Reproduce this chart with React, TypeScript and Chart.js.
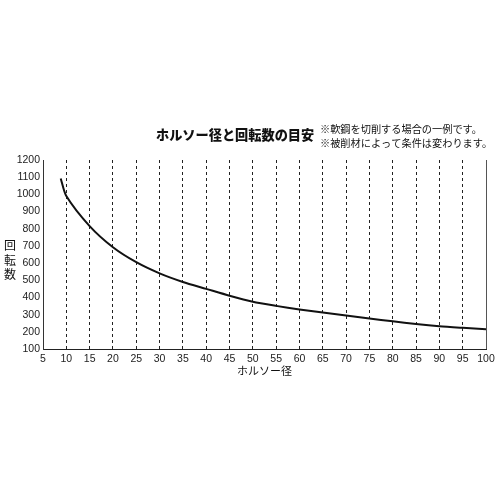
import React, { useEffect, useRef } from 'react';
import Chart from 'chart.js/auto';

// ホルソー径 (mm) と回転数 (rpm)
const diameters = [8.8, 10, 15, 20, 25, 30, 35, 40, 45, 50, 55, 60, 65, 70, 75, 80, 85, 90, 95, 100];
const rpm = [1092, 990, 815, 692, 605, 540, 490, 450, 410, 375, 351, 330, 312, 295, 277, 261, 245, 232, 223, 215];

const titleText = 'ホルソー径と回転数の目安';
const noteLines = ['※軟鋼を切削する場合の一例です。', '※被削材によって条件は変わります。'];
const xTitle = 'ホルソー径';
const yTitle = ['回', '転', '数'];

const jpFont = '"Noto Sans CJK JP", "Noto Sans", sans-serif';
const numFont = '"Liberation Sans", Arial, sans-serif';

const textPlugin = {
  id: 'textPlugin',
  afterDraw(chart: any) {
    const { ctx, chartArea, scales } = chart;
    ctx.save();
    ctx.fillStyle = '#111';
    ctx.textBaseline = 'middle';

    ctx.font = `900 13.2px ${jpFont}`;
    ctx.textAlign = 'left';
    ctx.fillText(titleText, 156, 135);

    ctx.font = `10.2px ${jpFont}`;
    ctx.fillText(noteLines[0], 320, 129);
    ctx.fillText(noteLines[1], 320, 143);

    ctx.font = `11px ${jpFont}`;
    ctx.textAlign = 'center';
    ctx.fillText(xTitle, (chartArea.left + chartArea.right) / 2, 371);

    ctx.font = `12px ${jpFont}`;
    const yTop = scales.y.getPixelForValue(700);
    yTitle.forEach((ch, i) => {
      ctx.fillText(ch, 10, yTop + i * 14.5);
    });
    ctx.restore();
  },
};

const App: React.FC = () => {
  const canvasRef = useRef<HTMLCanvasElement>(null);
  const chartInstance = useRef<Chart | null>(null);

  useEffect(() => {
    if (!canvasRef.current) return;
    if (chartInstance.current) chartInstance.current.destroy();

    const ctx = canvasRef.current.getContext('2d');
    if (!ctx) return;

    chartInstance.current = new Chart(ctx, {
      type: 'line',
      data: {
        datasets: [
          {
            label: '回転数',
            data: diameters.map((d, i) => ({ x: d, y: rpm[i] })),
            borderColor: '#111',
            borderWidth: 2,
            pointRadius: 0,
            fill: false,
            tension: 0.25,
          },
        ],
      },
      options: {
        responsive: true,
        maintainAspectRatio: false,
        animation: false,
        layout: { padding: { top: 160, left: 0, right: 14, bottom: 131 } },
        plugins: {
          legend: { display: false },
          tooltip: { enabled: false },
          title: { display: false },
        },
        scales: {
          x: {
            type: 'linear',
            min: 5,
            max: 100,
            afterFit: (scale: any) => {
              scale.height = 20;
            },
            ticks: {
              stepSize: 5,
              color: '#222',
              padding: 4,
              maxRotation: 0,
              autoSkip: false,
              font: { family: numFont, size: 10.5 },
              callback: (v: any) => String(v),
            },
            grid: {
              drawTicks: false,
              lineWidth: 1,
              color: (c: any) =>
                c.tick && c.tick.value === 5 ? 'rgba(0,0,0,0)' : c.tick && c.tick.value === 100 ? '#555' : '#222',
            },
            border: {
              display: true,
              color: '#222',
              width: 1,
              dash: (c: any) => (c.tick && c.tick.value === 100 ? [] : [3, 3]),
            },
          },
          y: {
            min: 100,
            max: 1200,
            afterFit: (scale: any) => {
              scale.width = 43;
            },
            ticks: {
              stepSize: 100,
              color: '#222',
              padding: 3,
              font: { family: numFont, size: 10.5 },
              callback: (v: any) => String(v),
            },
            grid: { display: false, drawTicks: false },
            border: { display: true, color: '#333', width: 1 },
          },
        },
      },
      plugins: [textPlugin],
    });

    return () => {
      if (chartInstance.current) {
        chartInstance.current.destroy();
        chartInstance.current = null;
      }
    };
  }, []);

  return (
    <div style={{ position: 'fixed', left: 0, top: 0, width: 500, height: 500, background: '#fff' }}>
      <canvas ref={canvasRef}></canvas>
    </div>
  );
};

export default App;
